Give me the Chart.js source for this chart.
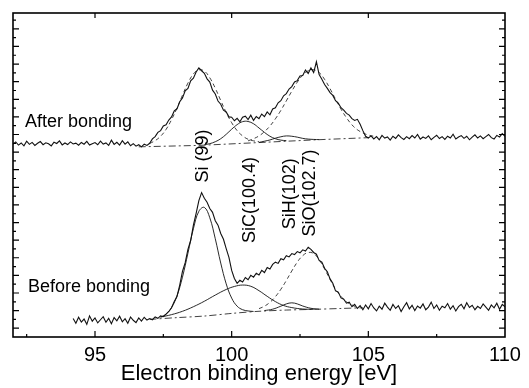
<!DOCTYPE html>
<html>
<head>
<meta charset="utf-8">
<script src="https://cdn.jsdelivr.net/npm/chart.js@4.4.1/dist/chart.umd.min.js"></script>
<style>
  html, body { margin: 0; padding: 0; background: #fff; }
</style>
</head>
<body>
<canvas id="chart" width="529" height="388"></canvas>
<script>
// ---------- data (intensity in arbitrary units) ----------
const E_STEP = 0.1;

// "After bonding" spectrum, 92.0 .. 110.0 eV
const AFTER_E0 = 92.0;
const afterCounts = [
  10.95, 11.08, 10.90, 11.02, 10.86, 11.12, 10.94, 11.05, 10.88, 11.00,
  11.10, 10.92, 11.03, 10.97, 10.85, 11.06, 10.99, 11.14, 10.91, 11.02,
  10.93, 11.08, 10.96, 11.01, 10.89, 11.05, 10.95, 11.11, 10.90, 10.98,
  11.04, 10.92, 11.12, 10.96, 11.02, 10.88, 11.18, 10.94, 11.06, 10.90,
  11.15, 10.95, 11.08, 10.86, 10.98, 10.84, 10.92, 10.80, 10.95, 10.88,
  11.00,
  11.25, 11.38, 11.62, 11.72, 11.98, 12.05, 12.32, 12.50, 12.84,
  12.96, 13.36, 13.58, 13.98, 14.12, 14.55, 14.70, 15.05, 15.28, 15.12,
  14.98, 14.66, 14.48, 14.02, 13.80, 13.40, 13.22, 12.88, 12.78, 12.50,
  12.48, 12.28, 12.42, 12.22, 12.48, 12.54, 12.35, 12.60, 12.30, 12.52,
  12.40, 12.66, 12.52, 12.78, 12.62, 12.95, 13.02, 13.30, 13.42, 13.70,
  13.82, 14.08, 14.22, 14.48, 14.56, 14.82, 14.85, 15.16, 14.96, 15.28,
  15.02, 15.63, 14.90, 14.64, 14.34, 14.12, 13.88, 13.72, 13.42, 13.28,
  13.02, 12.88, 12.70, 12.60, 12.40, 12.30, 12.36, 12.08, 11.72, 11.40,
  11.30,
  11.42, 11.25, 11.38, 11.20, 11.45, 11.30, 11.36, 11.18, 11.40, 11.28,
  11.48, 11.32, 11.22, 11.38, 11.26, 11.44, 11.30, 11.50, 11.24, 11.36,
  11.28, 11.42, 11.20, 11.34, 11.46, 11.27, 11.38, 11.22, 11.40, 11.30,
  11.52, 11.25, 11.36, 11.44, 11.28, 11.40, 11.20, 11.35, 11.48, 11.30,
  11.42, 11.26, 11.38, 11.50, 11.32, 11.24, 11.45, 11.36, 11.55, 11.40
];

// "Before bonding" spectrum, 94.2 .. 110.0 eV
const BEFORE_E0 = 94.2;
const beforeCounts = [
  1.05, 0.78, 1.12, 0.85, 1.02, 0.72, 1.20, 0.90, 1.08, 0.80,
  0.98, 1.15, 0.84, 1.06, 0.75, 1.10, 0.92, 1.18, 0.86, 1.04,
  0.78, 1.14, 0.95, 0.82, 1.08, 0.90, 1.12, 0.96, 1.05, 0.98,
  1.14, 1.06, 1.20, 1.15,
  1.30, 1.45, 1.66, 2.02, 2.30, 2.95, 3.72, 4.22, 4.98, 5.48,
  6.35, 7.02, 7.75, 8.20, 7.88, 7.65, 7.30, 7.08, 6.60, 6.35,
  5.88, 5.55, 5.02, 4.52, 3.78, 3.32, 3.05, 3.22, 3.12, 3.38,
  3.25, 3.50, 3.40, 3.62, 3.52, 3.78, 3.66, 3.95, 3.86, 4.12,
  4.25, 4.18, 4.45, 4.38, 4.62, 4.55, 4.74, 4.68, 4.85, 4.78,
  4.95, 4.88, 5.10, 4.98, 4.80, 4.70, 4.35, 4.25, 3.90, 3.70,
  3.30, 3.05, 2.62, 2.55, 2.22, 2.15, 1.92, 1.98, 1.72, 1.85,
  1.62,
  1.78, 1.55, 1.82, 1.60, 1.90, 1.65, 1.48, 1.75, 1.58, 1.92,
  1.70, 1.52, 1.85, 1.62, 1.78, 1.45, 1.72, 1.95, 1.60, 1.80,
  1.50, 1.76, 1.64, 1.88, 1.55, 1.70, 1.98, 1.62, 1.82, 1.52,
  1.75, 1.66, 1.90, 1.58, 1.78, 1.48, 1.72, 1.86, 1.60, 1.95,
  1.68, 1.80, 1.55, 1.74, 1.62, 1.88, 1.70, 1.52, 1.82, 1.66,
  1.92, 1.58, 1.85, 1.72
];

// fitted components, after bonding
const aBaseE = [96.6, 98.8, 100.7, 103.1, 105.0];
const aBaseY = [10.80, 10.88, 11.02, 11.20, 11.32];
const aSiE = [97.0, 97.2, 97.4, 97.6, 97.8, 98.0, 98.2, 98.4, 98.6, 98.8, 99.0, 99.2, 99.4, 99.6, 99.8, 100.0, 100.2, 100.4, 100.6, 100.8, 101.0];
const aSiY = [10.99, 11.15, 11.40, 11.79, 12.34, 13.00, 13.73, 14.42, 14.94, 15.17, 15.10, 14.72, 14.13, 13.43, 12.75, 12.17, 11.72, 11.42, 11.23, 11.14, 11.09];
const aSiCE = [99.0, 99.2, 99.4, 99.6, 99.8, 100.0, 100.2, 100.4, 100.6, 100.8, 101.0, 101.2, 101.4, 101.6, 101.8, 102.0];
const aSiCY = [10.92, 10.98, 11.09, 11.26, 11.51, 11.80, 12.06, 12.23, 12.24, 12.11, 11.87, 11.62, 11.40, 11.26, 11.18, 11.15];
const aSiHE = [101.0, 101.2, 101.4, 101.6, 101.8, 102.0, 102.2, 102.4, 102.6, 102.8, 103.0, 103.2];
const aSiHY = [11.05, 11.12, 11.19, 11.29, 11.37, 11.42, 11.40, 11.35, 11.28, 11.24, 11.22, 11.21];
const aSiOE = [100.6, 100.8, 101.0, 101.2, 101.4, 101.6, 101.8, 102.0, 102.2, 102.4, 102.6, 102.8, 103.0, 103.2, 103.4, 103.6, 103.8, 104.0, 104.2, 104.4, 104.6, 104.8, 105.0, 105.2];
const aSiOY = [11.14, 11.26, 11.42, 11.66, 11.98, 12.39, 12.87, 13.41, 13.96, 14.47, 14.87, 15.12, 15.18, 15.02, 14.63, 14.10, 13.51, 12.94, 12.45, 12.05, 11.77, 11.59, 11.47, 11.40];

// fitted components, before bonding
const bBaseE = [97.0, 98.0, 99.0, 100.0, 101.0, 102.0, 103.0, 104.0, 104.8];
const bBaseY = [1.00, 1.10, 1.19, 1.34, 1.46, 1.53, 1.57, 1.62, 1.66];
const bSiE = [97.4, 97.6, 97.8, 98.0, 98.2, 98.4, 98.6, 98.8, 99.0, 99.2, 99.4, 99.6, 99.8, 100.0, 100.2, 100.4, 100.6, 100.8];
const bSiY = [1.13, 1.30, 1.67, 2.34, 3.40, 4.76, 6.15, 7.14, 7.36, 6.77, 5.58, 4.20, 3.02, 2.21, 1.75, 1.55, 1.48, 1.45];
const bSiCE = [97.4, 97.8, 98.2, 98.6, 99.0, 99.4, 99.8, 100.1, 100.4, 100.7, 101.0, 101.3, 101.6, 101.9, 102.2, 102.6, 103.0];
const bSiCY = [1.13, 1.27, 1.46, 1.72, 2.03, 2.38, 2.70, 2.87, 2.95, 2.88, 2.63, 2.31, 2.01, 1.79, 1.67, 1.59, 1.57];
const bSiHE = [101.2, 101.5, 101.8, 102.0, 102.2, 102.4, 102.6, 102.9, 103.2];
const bSiHY = [1.50, 1.58, 1.75, 1.88, 1.94, 1.88, 1.76, 1.63, 1.58];
const bSiOE = [101.0, 101.2, 101.4, 101.6, 101.8, 102.0, 102.2, 102.4, 102.6, 102.8, 103.0, 103.2, 103.4, 103.6, 103.8, 104.0, 104.2, 104.4, 104.6];
const bSiOY = [1.61, 1.75, 1.97, 2.29, 2.71, 3.21, 3.75, 4.25, 4.62, 4.80, 4.74, 4.39, 3.86, 3.27, 2.72, 2.31, 2.00, 1.82, 1.68];

// axes
const xTickValues = [95, 100, 105, 110];
const xTickLabels = ['95', '100', '105', '110'];
const xTopTicks = [95, 100, 105];
const xMinorTicks = [92.5, 97.5, 102.5, 107.5];
const yMajorTicks = [0.5, 1.5, 2.5, 3.5, 4.5, 5.5, 6.5, 7.5, 8.5, 9.5, 10.5, 11.5, 12.5, 13.5, 14.5, 15.5, 16.5, 17.5];
const yMinorTicks = [1, 2, 3, 4, 5, 6, 7, 8, 9, 10, 11, 12, 13, 14, 15, 16, 17, 18];

// text annotations
const curveLabels = [
  {text: 'After bonding', x: 92.44, y: 11.9, rot: false},
  {text: 'Before bonding', x: 92.55, y: 2.56, rot: false},
  {text: 'Si (99)', x: 98.95, y: 10.28, rot: true},
  {text: 'SiC(100.4)', x: 100.67, y: 7.78, rot: true},
  {text: 'SiH(102)', x: 102.13, y: 8.13, rot: true},
  {text: 'SiO(102.7)', x: 102.87, y: 8.18, rot: true}
];

// ---------- helpers ----------
const FONT = '"Liberation Sans", Arial, Helvetica, sans-serif';
const spectrum = (e0, ys) => ys.map((y, i) => ({x: +(e0 + i * E_STEP).toFixed(2), y}));
const points = (xs, ys) => xs.map((x, i) => ({x, y: ys[i]}));

function lineDs(data, opts) {
  return Object.assign({
    data, borderColor: '#111', borderWidth: 1.1, pointRadius: 0, fill: false, tension: 0
  }, opts || {});
}
const DASH = [4, 3];
const DASHDOT = [7, 3, 2, 3];

// inward ticks, frame and labels
const framePlugin = {
  id: 'frame',
  afterDatasetsDraw(chart) {
    const {ctx, chartArea: a, scales: {x, y}} = chart;
    ctx.save();
    ctx.strokeStyle = '#000';
    ctx.lineWidth = 1.6;
    ctx.strokeRect(a.left, a.top, a.right - a.left, a.bottom - a.top);
    ctx.lineWidth = 1.2;
    ctx.beginPath();
    yMajorTicks.forEach(v => {
      const py = y.getPixelForValue(v);
      ctx.moveTo(a.left, py); ctx.lineTo(a.left + 6, py);
      ctx.moveTo(a.right, py); ctx.lineTo(a.right - 6, py);
    });
    yMinorTicks.forEach(v => {
      const py = y.getPixelForValue(v);
      if (py <= a.top + 1) return;
      ctx.moveTo(a.left, py); ctx.lineTo(a.left + 3, py);
      ctx.moveTo(a.right, py); ctx.lineTo(a.right - 3, py);
    });
    xTickValues.forEach(v => {
      const px = x.getPixelForValue(v);
      if (px >= a.right - 1) return;
      ctx.moveTo(px, a.bottom); ctx.lineTo(px, a.bottom - 6);
    });
    xTopTicks.forEach(v => {
      const px = x.getPixelForValue(v);
      ctx.moveTo(px, a.top); ctx.lineTo(px, a.top + 5);
    });
    xMinorTicks.forEach(v => {
      const px = x.getPixelForValue(v);
      ctx.moveTo(px, a.bottom); ctx.lineTo(px, a.bottom - 3);
    });
    ctx.stroke();

    ctx.fillStyle = '#000';
    ctx.font = '18px ' + FONT;
    curveLabels.forEach(l => {
      const px = x.getPixelForValue(l.x), py = y.getPixelForValue(l.y);
      if (l.rot) {
        ctx.save();
        ctx.translate(px, py);
        ctx.rotate(-Math.PI / 2);
        ctx.textAlign = 'center';
        ctx.textBaseline = 'middle';
        ctx.fillText(l.text, 0, 0);
        ctx.restore();
      } else {
        ctx.textAlign = 'left';
        ctx.textBaseline = 'alphabetic';
        ctx.fillText(l.text, px, py);
      }
    });
    ctx.restore();
  }
};

new Chart(document.getElementById('chart'), {
  type: 'line',
  data: {
    datasets: [
      lineDs(spectrum(AFTER_E0, afterCounts)),
      lineDs(spectrum(BEFORE_E0, beforeCounts)),
      lineDs(points(aBaseE, aBaseY), {borderWidth: 0.8, borderDash: DASHDOT}),
      lineDs(points(aSiE, aSiY), {borderWidth: 0.8, borderDash: DASH, tension: 0.4}),
      lineDs(points(aSiCE, aSiCY), {borderWidth: 0.9, tension: 0.4}),
      lineDs(points(aSiHE, aSiHY), {borderWidth: 0.9, tension: 0.4}),
      lineDs(points(aSiOE, aSiOY), {borderWidth: 0.8, borderDash: DASH, tension: 0.4}),
      lineDs(points(bBaseE, bBaseY), {borderWidth: 0.8, borderDash: DASHDOT, tension: 0.3}),
      lineDs(points(bSiE, bSiY), {borderWidth: 0.9, tension: 0.4}),
      lineDs(points(bSiCE, bSiCY), {borderWidth: 0.9, tension: 0.4}),
      lineDs(points(bSiHE, bSiHY), {borderWidth: 0.9, tension: 0.4}),
      lineDs(points(bSiOE, bSiOY), {borderWidth: 0.8, borderDash: DASH, tension: 0.4})
    ]
  },
  options: {
    responsive: false,
    animation: false,
    devicePixelRatio: 1,
    layout: {padding: {left: 13, right: 24, top: 13, bottom: 0}},
    plugins: {legend: {display: false}, tooltip: {enabled: false}},
    scales: {
      x: {
        type: 'linear', min: 92, max: 110,
        grid: {display: false, drawTicks: false},
        border: {display: false},
        afterBuildTicks: s => { s.ticks = xTickValues.map(v => ({value: v})); },
        afterFit: s => { s.height = 51; },
        ticks: {
          autoSkip: false, maxRotation: 0, padding: 6, color: '#000',
          font: {family: FONT, size: 20},
          callback: v => xTickLabels[xTickValues.indexOf(v)]
        },
        title: {
          display: true, text: 'Electron binding energy [eV]', color: '#000',
          font: {family: FONT, size: 22}, padding: {top: 0, bottom: 1}
        }
      },
      y: {
        type: 'linear', min: 0, max: 18.4, display: false
      }
    }
  },
  plugins: [framePlugin]
});
</script>
</body>
</html>
